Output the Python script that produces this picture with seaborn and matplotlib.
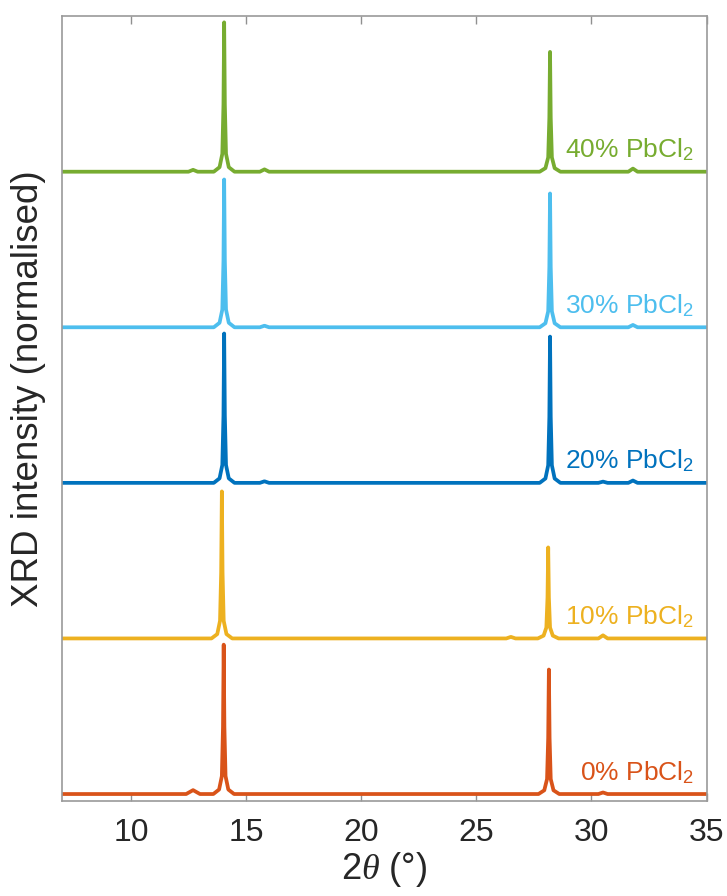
import numpy as np
import pandas as pd
import matplotlib
matplotlib.use("Agg")
import matplotlib.pyplot as plt
import seaborn as sns

# Podaci ocitani sa slike (2theta, normalizovani intenzitet) za svaki uzorak
samples = ["0% PbCl$_2$", "10% PbCl$_2$", "20% PbCl$_2$", "30% PbCl$_2$", "40% PbCl$_2$"]
colors = ["#D95319", "#EDB120", "#0072BD", "#4DBEEE", "#77AC30"]

x_0 = [7.0, 12.4, 12.7, 13.0,
       13.58, 13.83, 13.95, 14.0, 14.03, 14.06, 14.11, 14.23, 14.48,
       27.7, 27.95, 28.07, 28.12, 28.15, 28.18, 28.23, 28.35, 28.6,
       30.3, 30.5, 30.7, 35.0]
y_0 = [0, 0, 0.025, 0,
       0, 0.029, 0.115, 0.432, 0.96, 0.432, 0.115, 0.029, 0,
       0, 0.024, 0.096, 0.36, 0.80, 0.36, 0.096, 0.024, 0,
       0, 0.01, 0, 0]

x_10 = [7.0,
        13.5, 13.75, 13.87, 13.92, 13.95, 13.98, 14.03, 14.15, 14.4,
        26.3, 26.5, 26.7,
        27.67, 27.92, 28.04, 28.09, 28.12, 28.15, 28.2, 28.32, 28.57,
        30.3, 30.5, 30.7, 35.0]
y_10 = [0,
        0, 0.028, 0.113, 0.425, 0.945, 0.425, 0.113, 0.028, 0,
        0, 0.01, 0,
        0, 0.018, 0.07, 0.263, 0.585, 0.263, 0.07, 0.018, 0,
        0, 0.02, 0, 0]

x_20 = [7.0,
        13.6, 13.85, 13.97, 14.02, 14.05, 14.08, 14.13, 14.25, 14.5,
        15.6, 15.8, 16.0,
        27.75, 28.0, 28.12, 28.17, 28.2, 28.23, 28.28, 28.4, 28.65,
        30.3, 30.5, 30.7, 31.6, 31.8, 32.0, 35.0]
y_20 = [0,
        0, 0.029, 0.115, 0.432, 0.96, 0.432, 0.115, 0.029, 0,
        0, 0.01, 0,
        0, 0.028, 0.113, 0.423, 0.94, 0.423, 0.113, 0.028, 0,
        0, 0.008, 0, 0, 0.015, 0, 0]

x_30 = [7.0,
        13.6, 13.85, 13.97, 14.02, 14.05, 14.08, 14.13, 14.25, 14.5,
        15.6, 15.8, 16.0,
        27.75, 28.0, 28.12, 28.17, 28.2, 28.23, 28.28, 28.4, 28.65,
        31.6, 31.8, 32.0, 35.0]
y_30 = [0,
        0, 0.029, 0.114, 0.428, 0.95, 0.428, 0.114, 0.029, 0,
        0, 0.01, 0,
        0, 0.026, 0.103, 0.387, 0.86, 0.387, 0.103, 0.026, 0,
        0, 0.015, 0, 0]

x_40 = [7.0, 12.5, 12.7, 12.9,
        13.6, 13.85, 13.97, 14.02, 14.05, 14.08, 14.13, 14.25, 14.5,
        15.6, 15.8, 16.0,
        27.75, 28.0, 28.12, 28.17, 28.2, 28.23, 28.28, 28.4, 28.65,
        31.6, 31.8, 32.0, 35.0]
y_40 = [0, 0, 0.012, 0,
        0, 0.029, 0.115, 0.432, 0.96, 0.432, 0.115, 0.029, 0,
        0, 0.015, 0,
        0, 0.023, 0.092, 0.347, 0.77, 0.347, 0.092, 0.023, 0,
        0, 0.02, 0, 0]

xs = [x_0, x_10, x_20, x_30, x_40]
ys = [y_0, y_10, y_20, y_30, y_40]

# Pravim jedan DataFrame, svaki uzorak pomeren za 1 po y osi
frames = []
for i, (name, x, y) in enumerate(zip(samples, xs, ys)):
    frames.append(pd.DataFrame({"two_theta": x,
                                "intensity": np.array(y) + i,
                                "sample": name}))
xrd = pd.concat(frames, ignore_index=True)

sns.set_style("white")
plt.rcParams["font.family"] = ["Liberation Sans", "DejaVu Sans"]
plt.rcParams["mathtext.fontset"] = "custom"
plt.rcParams["mathtext.rm"] = "Liberation Sans"
plt.rcParams["mathtext.it"] = "Liberation Serif:italic"

fig = plt.figure(figsize=(7.27, 8.96), dpi=100)
ax = fig.add_axes([0.085, 0.106, 0.887, 0.876])

sns.lineplot(data=xrd, x="two_theta", y="intensity", hue="sample",
             palette=colors, estimator=None, sort=False, linewidth=2.7,
             legend=False, ax=ax)

# Natpisi uzoraka desno iznad bazne linije
for i, (name, c) in enumerate(zip(samples, colors)):
    ax.text(34.45, i + 0.09, name, color=c, fontsize=19,
            ha="right", va="baseline")

ax.set_xlim(7, 35)
ax.set_ylim(-0.045, 5.0)
ax.set_xticks([10, 15, 20, 25, 30, 35])
ax.set_yticks([])
ax.tick_params(axis="x", direction="in", length=6, width=1, color="#909090",
               top=True, bottom=True, labelsize=23, labelcolor="#262626", pad=12)
for s in ax.spines.values():
    s.set_color("#9a9a9a")
    s.set_linewidth(1.2)

ax.set_xlabel(r"2$\it{\theta}$ (°)", fontsize=26, color="#262626", labelpad=2)
ax.set_ylabel("XRD intensity (normalised)", fontsize=26.5, color="#262626")
ax.yaxis.set_label_coords(-0.024, 0.525)

fig.savefig("out.png", dpi=100)
